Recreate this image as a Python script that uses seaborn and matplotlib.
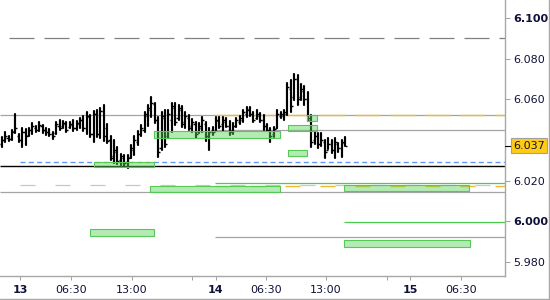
import numpy as np
import pandas as pd
import matplotlib
matplotlib.use("Agg")
import matplotlib.pyplot as plt
import matplotlib.transforms as mtransforms
from matplotlib.patches import Rectangle
from matplotlib.lines import Line2D
import seaborn as sns

# ---------------- data ----------------
highs = [6.0415, 6.0439, 6.0420, 6.0449, 6.0528, 6.0430, 6.0459, 6.0454, 6.0459, 6.0484,
         6.0469, 6.0489, 6.0474, 6.0459, 6.0454, 6.0439, 6.0489, 6.0499, 6.0494, 6.0489,
         6.0489, 6.0499, 6.0494, 6.0508, 6.0518, 6.0538, 6.0523, 6.0543, 6.0548, 6.0558,
         6.0572, 6.0479, 6.0420, 6.0400, 6.0365, 6.0331, 6.0326, 6.0326, 6.0375, 6.0420,
         6.0444, 6.0474, 6.0538, 6.0572, 6.0612, 6.0582, 6.0513, 6.0538, 6.0548, 6.0548,
         6.0582, 6.0582, 6.0572, 6.0568, 6.0538, 6.0523, 6.0503, 6.0489, 6.0484, 6.0513,
         6.0489, 6.0459, 6.0464, 6.0513, 6.0513, 6.0513, 6.0508, 6.0494, 6.0484, 6.0508,
         6.0518, 6.0548, 6.0563, 6.0563, 6.0538, 6.0548, 6.0533, 6.0523, 6.0479, 6.0459,
         6.0464, 6.0548, 6.0538, 6.0548, 6.0681, 6.0696, 6.0725, 6.0720, 6.0676, 6.0666,
         6.0637, 6.0523, 6.0439, 6.0434, 6.0434, 6.0400, 6.0410, 6.0400, 6.0410, 6.0385,
         6.0400, 6.0415]
lows = [6.0365, 6.0390, 6.0395, 6.0400, 6.0434, 6.0390, 6.0365, 6.0375, 6.0420, 6.0430,
        6.0439, 6.0444, 6.0434, 6.0425, 6.0420, 6.0405, 6.0430, 6.0449, 6.0459, 6.0439,
        6.0459, 6.0444, 6.0449, 6.0459, 6.0444, 6.0430, 6.0415, 6.0390, 6.0415, 6.0410,
        6.0395, 6.0385, 6.0301, 6.0287, 6.0282, 6.0277, 6.0272, 6.0262, 6.0311, 6.0326,
        6.0375, 6.0420, 6.0439, 6.0469, 6.0513, 6.0484, 6.0316, 6.0351, 6.0365, 6.0410,
        6.0439, 6.0474, 6.0499, 6.0464, 6.0459, 6.0449, 6.0439, 6.0410, 6.0434, 6.0439,
        6.0395, 6.0351, 6.0425, 6.0449, 6.0459, 6.0444, 6.0464, 6.0425, 6.0430, 6.0464,
        6.0479, 6.0489, 6.0513, 6.0518, 6.0489, 6.0503, 6.0489, 6.0449, 6.0444, 6.0390,
        6.0415, 6.0459, 6.0508, 6.0499, 6.0523, 6.0538, 6.0597, 6.0572, 6.0597, 6.0572,
        6.0494, 6.0365, 6.0380, 6.0361, 6.0370, 6.0311, 6.0356, 6.0336, 6.0311, 6.0341,
        6.0316, 6.0372]
opens = [6.0380, 6.0400, 6.0410, 6.0405, 6.0445, 6.0420, 6.0400, 6.0440, 6.0425, 6.0450,
         6.0460, 6.0450, 6.0470, 6.0450, 6.0440, 6.0430, 6.0435, 6.0470, 6.0470, 6.0480,
         6.0465, 6.0475, 6.0460, 6.0480, 6.0500, 6.0460, 6.0515, 6.0430, 6.0530, 6.0430,
         6.0545, 6.0460, 6.0400, 6.0320, 6.0340, 6.0300, 6.0310, 6.0290, 6.0315, 6.0350,
         6.0390, 6.0430, 6.0450, 6.0520, 6.0550, 6.0575, 6.0500, 6.0360, 6.0510, 6.0420,
         6.0500, 6.0560, 6.0510, 6.0550, 6.0490, 6.0510, 6.0470, 6.0480, 6.0440, 6.0460,
         6.0480, 6.0420, 6.0450, 6.0450, 6.0495, 6.0480, 6.0490, 6.0470, 6.0450, 6.0470,
         6.0490, 6.0500, 6.0530, 6.0555, 6.0530, 6.0510, 6.0520, 6.0500, 6.0470, 6.0450,
         6.0430, 6.0460, 6.0520, 6.0520, 6.0530, 6.0650, 6.0610, 6.0700, 6.0610, 6.0640,
         6.0600, 6.0500, 6.0400, 6.0420, 6.0380, 6.0390, 6.0350, 6.0380, 6.0350, 6.0380,
         6.0360, 6.0385]
closes = [6.0400, 6.0420, 6.0405, 6.0440, 6.0460, 6.0400, 6.0440, 6.0420, 6.0450, 6.0470,
          6.0450, 6.0475, 6.0450, 6.0440, 6.0430, 6.0420, 6.0480, 6.0460, 6.0485, 6.0450,
          6.0480, 6.0460, 6.0485, 6.0500, 6.0460, 6.0520, 6.0430, 6.0530, 6.0430, 6.0545,
          6.0420, 6.0395, 6.0310, 6.0350, 6.0295, 6.0320, 6.0285, 6.0310, 6.0360, 6.0400,
          6.0430, 6.0460, 6.0530, 6.0560, 6.0580, 6.0500, 6.0340, 6.0520, 6.0380, 6.0530,
          6.0570, 6.0490, 6.0560, 6.0480, 6.0520, 6.0460, 6.0490, 6.0430, 6.0470, 6.0500,
          6.0420, 6.0440, 6.0440, 6.0500, 6.0470, 6.0500, 6.0470, 6.0440, 6.0470, 6.0500,
          6.0510, 6.0540, 6.0550, 6.0530, 6.0500, 6.0530, 6.0500, 6.0470, 6.0450, 6.0420,
          6.0455, 6.0530, 6.0530, 6.0540, 6.0660, 6.0570, 6.0700, 6.0600, 6.0650, 6.0600,
          6.0510, 6.0390, 6.0420, 6.0380, 6.0400, 6.0340, 6.0380, 6.0350, 6.0390, 6.0360,
          6.0390, 6.0372]
last_price = 6.0372
last_label = "6.037"

# x axis (bar-slot units)
x_ticks = [5.5, 20.5, 38.2, 55.85, 62.9, 77.6, 95.3, 113.2, 120.1, 135.1]
x_tick_labels = ["13", "06:30", "13:00", "", "14", "06:30", "13:00", "", "15", "06:30"]
day_labels = ["13", "14", "15"]

y_ticks = [5.980, 6.000, 6.020, 6.060, 6.080, 6.100]
y_tick_labels = ["5.980", "6.000", "6.020", "6.060", "6.080", "6.100"]
bold_y = ["6.000", "6.100"]

# horizontal levels: price, start slot
level_prices = [6.0905, 6.0523, 6.0523, 6.0448, 6.0290, 6.0272, 6.0190, 6.0177, 6.0171, 6.0142, 5.9996, 5.9920]
level_start = [2.1, -0.5, 62.7, 62.7, 5.4, -0.5, 62.7, 5.4, 62.7, -0.5, 100.7, 62.7]

# zones: (slot start, slot end, price low, price high)
zone_x0 = [27.15, 44.8, 84.2, 84.2, 89.8, 43.6, 100.7, 26.0, 100.7]
zone_x1 = [44.8, 81.85, 92.7, 89.8, 92.7, 81.85, 137.4, 44.9, 137.7]
zone_lo = [6.0267, 6.0412, 6.0444, 6.0321, 6.0494, 6.0142, 6.0149, 5.9928, 5.9874]
zone_hi = [6.0291, 6.0444, 6.0474, 6.0351, 6.0523, 6.0173, 6.0178, 5.9961, 5.9907]

# ---------------- styling ----------------
sns.set_theme(style="white")
plt.rcParams["font.family"] = ["DejaVu Sans"]
plt.rcParams["lines.scale_dashes"] = False

fig = plt.figure(figsize=(5.5, 3.0), dpi=100)
ax = fig.add_axes([0, 24 / 300, 505 / 550, 276 / 300])
X_MAX = 148.0
ax.set_xlim(-0.5, X_MAX)
ax.set_ylim(5.97293, 6.10902)

GRAY = "#a4a4a4"
level_styles = [
    dict(color="#808080", lw=0.9, dashes=(18, 7.2)),
    dict(color=GRAY, lw=0.9),
    dict(color="#f5b731", lw=1.0, dashes=(18, 7.2)),
    dict(color=GRAY, lw=0.9),
    dict(color="#5f95f5", lw=0.95, dashes=(3.6, 2.4)),
    dict(color="black", lw=1.0),
    dict(color="#4ccc4c", lw=0.9),
    dict(color="#c8c8c8", lw=0.9, dashes=(10.8, 14.4)),
    dict(color="#f5b731", lw=1.0, dashes=(10.8, 14.4)),
    dict(color=GRAY, lw=0.9),
    dict(color="#4ccc4c", lw=0.9),
    dict(color=GRAY, lw=0.9),
]
for p, x0, st in zip(level_prices, level_start, level_styles):
    st = dict(st)
    d = st.pop("dashes", None)
    ln, = ax.plot([x0, X_MAX], [p, p], zorder=1, solid_capstyle="butt", **st)
    if d is not None:
        ln.set_dashes(d)

# OHLC bars: high-low via seaborn
n = len(highs)
idx = np.arange(n)
df = pd.DataFrame({
    "bar": np.concatenate([idx, idx]),
    "x": np.concatenate([idx, idx]).astype(float),
    "price": np.concatenate([lows, highs]),
})
sns.lineplot(data=df, x="x", y="price", units="bar", estimator=None, sort=False,
             color="black", lw=1.55, ax=ax, zorder=3, legend=False)
ax.hlines(opens, idx - 0.6, idx, color="black", lw=1.0, zorder=3)
ax.hlines(closes, idx, idx + 0.6, color="black", lw=1.0, zorder=3)

# zones
for x0, x1, lo, hi in zip(zone_x0, zone_x1, zone_lo, zone_hi):
    ax.add_patch(Rectangle((x0, lo), x1 - x0, hi - lo, facecolor="#5ad25a", alpha=0.45,
                           edgecolor="none", zorder=4))
    ax.add_patch(Rectangle((x0, lo), x1 - x0, hi - lo, facecolor="none",
                           edgecolor="#55c855", lw=0.8, zorder=5))

# axes
ax.set_xlabel("")
ax.set_ylabel("")
ax.grid(False)
for s in ["left", "top"]:
    ax.spines[s].set_visible(False)
for s in ["right", "bottom"]:
    ax.spines[s].set_color("#a8a8a8")
    ax.spines[s].set_linewidth(1.0)

ax.yaxis.tick_right()
ax.set_yticks(y_ticks)
ax.set_yticklabels(y_tick_labels)
ax.tick_params(axis="y", which="both", right=True, left=False, length=3.6, width=0.7,
               color="#a0a0a0", pad=2.5, labelsize=8, labelcolor="#10103a")
for t in ax.get_yticklabels():
    if t.get_text() in bold_y:
        t.set_fontweight("bold")

ax.set_xticks(x_ticks)
ax.set_xticklabels(x_tick_labels)
ax.tick_params(axis="x", which="both", bottom=True, length=3.0, width=0.7,
               color="#a0a0a0", pad=3.5, labelsize=8, labelcolor="#10103a")
for t in ax.get_xticklabels():
    if t.get_text() in day_labels:
        t.set_fontweight("bold")

# last price tag
trans = mtransforms.blended_transform_factory(ax.transAxes, ax.transData)
ax.plot([1.0, 1.012], [last_price, last_price], transform=trans, clip_on=False,
        color="black", lw=0.8, zorder=6)
ax.text(1.0158, last_price, last_label, transform=trans, ha="left", va="center",
        fontsize=8, color="#10103a", clip_on=False, zorder=7,
        bbox=dict(boxstyle="square,pad=0.22", facecolor="#ffcc14", edgecolor="#a0a0a0", lw=0.8))

# outer frame (right and bottom)
fig.add_artist(Line2D([0.9985, 0.9985], [0, 1], transform=fig.transFigure, color="#a8a8a8", lw=1.0))
fig.add_artist(Line2D([0, 1], [0.0017, 0.0017], transform=fig.transFigure, color="#a8a8a8", lw=1.0))

fig.savefig("out.png", dpi=100, facecolor="white")
